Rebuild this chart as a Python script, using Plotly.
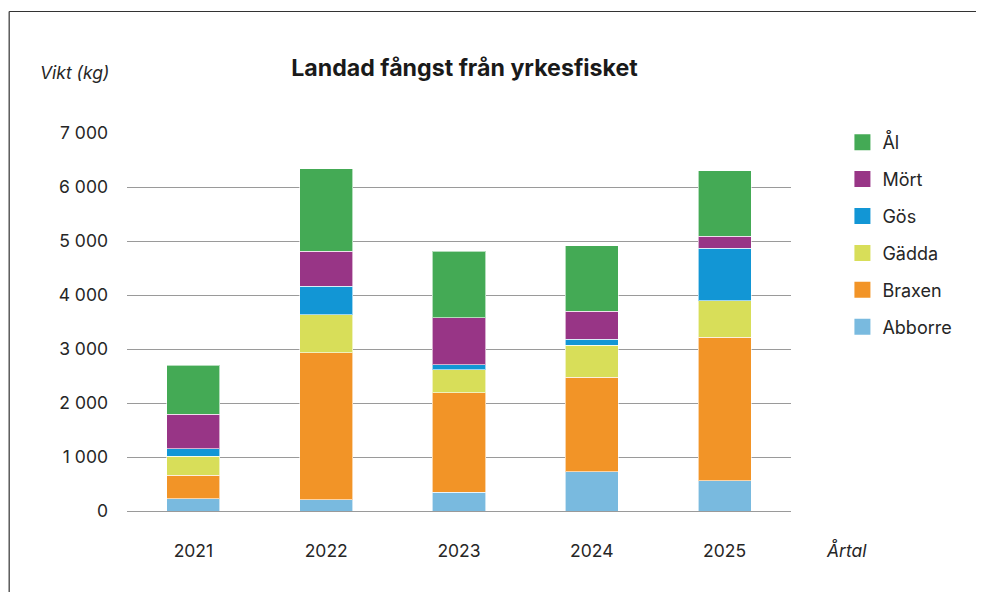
import plotly.graph_objects as go

years = ["2021", "2022", "2023", "2024", "2025"]
abborre = [230, 210, 350, 730, 560]
braxen = [430, 2720, 1840, 1750, 2660]
gadda = [350, 700, 430, 590, 670]
gos = [140, 530, 90, 110, 980]
mort = [640, 650, 870, 520, 215]
al = [910, 1530, 1230, 1210, 1215]

series = [
    ("Abborre", abborre, "#79BADF"),
    ("Braxen", braxen, "#F29427"),
    ("Gädda", gadda, "#D8DE59"),
    ("Gös", gos, "#1296D5"),
    ("Mört", mort, "#983586"),
    ("Ål", al, "#44AA55"),
]

tickvals = [0, 1000, 2000, 3000, 4000, 5000, 6000, 7000]
ticktext = ["0", "1 000", "2 000", "3 000", "4 000", "5 000", "6 000", "7 000"]

FONT = "Inter, Roboto, Open Sans, sans-serif"

# page body has an 8px default margin: work in screen coords and shift
OFF = 8
W, H = 984 - OFF, 592 - OFF
L = 126.5 - OFF
R = W - (791.5 - OFF)
T = 133 - OFF
B = H - (511 - OFF)
pw = W - L - R
ph = H - T - B


def px_x(x):
    return (x - OFF - L) / pw


def px_y(y):
    return (H - B - (y - OFF)) / ph


fig = go.Figure()
n = len(series)
for i, (name, vals, col) in enumerate(series):
    fig.add_trace(go.Bar(
        x=years, y=vals, name=name, showlegend=False,
        marker=dict(color=col, line=dict(color="rgba(255,255,255,0.6)", width=1)),
    ))
# legend proxies (larger square swatches)
for i, (name, vals, col) in enumerate(series):
    fig.add_trace(go.Scatter(
        x=[None], y=[None], name=name, mode="markers", legendgroup=name,
        legendrank=n - i,
        marker=dict(symbol="square", size=16, color=col),
    ))

fig.update_layout(
    width=W, height=H,
    margin=dict(l=L, r=R, t=T, b=B),
    paper_bgcolor="white", plot_bgcolor="white",
    barmode="stack", bargap=0.6,
    font=dict(family=FONT, size=17.5, color="#262626"),
    title=dict(text="<b>Landad fångst från yrkesfisket</b>", x=px_x(464.5), xref="paper",
               xanchor="center", y=1 - (68 - OFF) / H, yanchor="middle",
               font=dict(family=FONT, size=23.2, color="#1a1a1a")),
    xaxis=dict(showgrid=False, showline=False, ticks="", tickfont=dict(size=17.5),
               ticklabelstandoff=27),
    yaxis=dict(range=[0, 7000], tickvals=tickvals, ticktext=ticktext,
               showgrid=True, gridcolor="#9a9a9a", gridwidth=1,
               zeroline=True, zerolinecolor="#9a9a9a", zerolinewidth=1,
               showline=False, ticks="", tickfont=dict(size=17.5), ticklabelstandoff=18),
    legend=dict(x=px_x(843), y=px_y(124), xanchor="left", yanchor="top",
                traceorder="grouped", tracegroupgap=10.5, itemsizing="trace",
                font=dict(size=18, color="#262626"), bgcolor="rgba(0,0,0,0)"),
    showlegend=True,
)

fig.add_annotation(text="<i>Vikt (kg)</i>", xref="paper", yref="paper",
                   x=px_x(74), y=px_y(73), xanchor="center", yanchor="middle",
                   showarrow=False, font=dict(size=17.5, color="#262626"))
fig.add_annotation(text="<i>Årtal</i>", xref="paper", yref="paper",
                   x=px_x(847), y=px_y(550), xanchor="center", yanchor="middle",
                   showarrow=False, font=dict(size=17.5, color="#262626"))

# frame: only left and top edges are visible in the window
fig.add_shape(type="line", xref="paper", yref="paper",
              x0=px_x(8.5), x1=px_x(8.5), y0=px_y(592), y1=px_y(11.5),
              line=dict(color="#333333", width=1.2), layer="above")
fig.add_shape(type="line", xref="paper", yref="paper",
              x0=px_x(8.5), x1=px_x(983), y0=px_y(11.5), y1=px_y(11.5),
              line=dict(color="#333333", width=1.2), layer="above")

fig.write_html("out.html", config={"displayModeBar": False})
